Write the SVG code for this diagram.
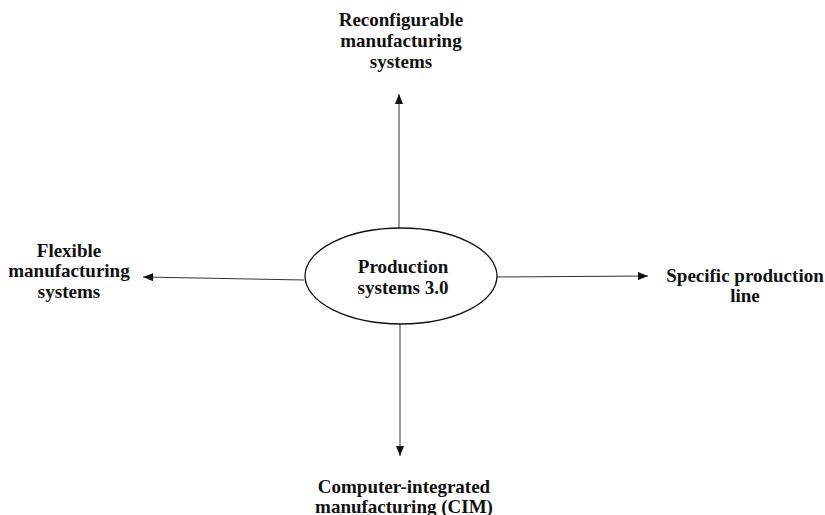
<svg xmlns="http://www.w3.org/2000/svg" width="825" height="515" viewBox="0 0 825 515">
  <style>
    .lbl { font-family: "Liberation Serif", "DejaVu Serif", serif; font-weight: bold; font-size: 19px; fill: #111; text-anchor: middle; }
    .conn { stroke: #333; stroke-width: 1; fill: none; marker-end: url(#arrow); }
  </style>
  <defs>
    <marker id="arrow" viewBox="0 0 10 8" refX="10" refY="4" markerWidth="10" markerHeight="8" markerUnits="userSpaceOnUse" orient="auto">
      <path d="M0,0 L10,4 L0,8 Z" fill="#111"/>
    </marker>
  </defs>
  <rect width="825" height="515" fill="#fff"/>
  <g id="connectors">
    <line class="conn" x1="399" y1="228" x2="399" y2="94"/>
    <line class="conn" x1="304" y1="280" x2="143" y2="277"/>
    <line class="conn" x1="497" y1="277" x2="648" y2="276"/>
    <line class="conn" x1="400" y1="324" x2="400" y2="456"/>
  </g>
  <g id="center">
    <ellipse cx="401" cy="276" rx="96" ry="48" fill="#fff" stroke="#111" stroke-width="1.3"/>
    <text class="lbl" x="403" y="273">Production</text>
    <text class="lbl" x="403" y="294">systems 3.0</text>
  </g>
  <g id="reconfigurable">
    <text class="lbl" x="401" y="26">Reconfigurable</text>
    <text class="lbl" x="401" y="47">manufacturing</text>
    <text class="lbl" x="401" y="68">systems</text>
  </g>
  <g id="flexible">
    <text class="lbl" x="69" y="257">Flexible</text>
    <text class="lbl" x="69" y="277">manufacturing</text>
    <text class="lbl" x="69" y="298">systems</text>
  </g>
  <g id="specific">
    <text class="lbl" x="745" y="282">Specific production</text>
    <text class="lbl" x="745" y="302">line</text>
  </g>
  <g id="cim">
    <text class="lbl" x="404" y="493">Computer-integrated</text>
    <text class="lbl" x="404" y="513">manufacturing (CIM)</text>
  </g>
</svg>
